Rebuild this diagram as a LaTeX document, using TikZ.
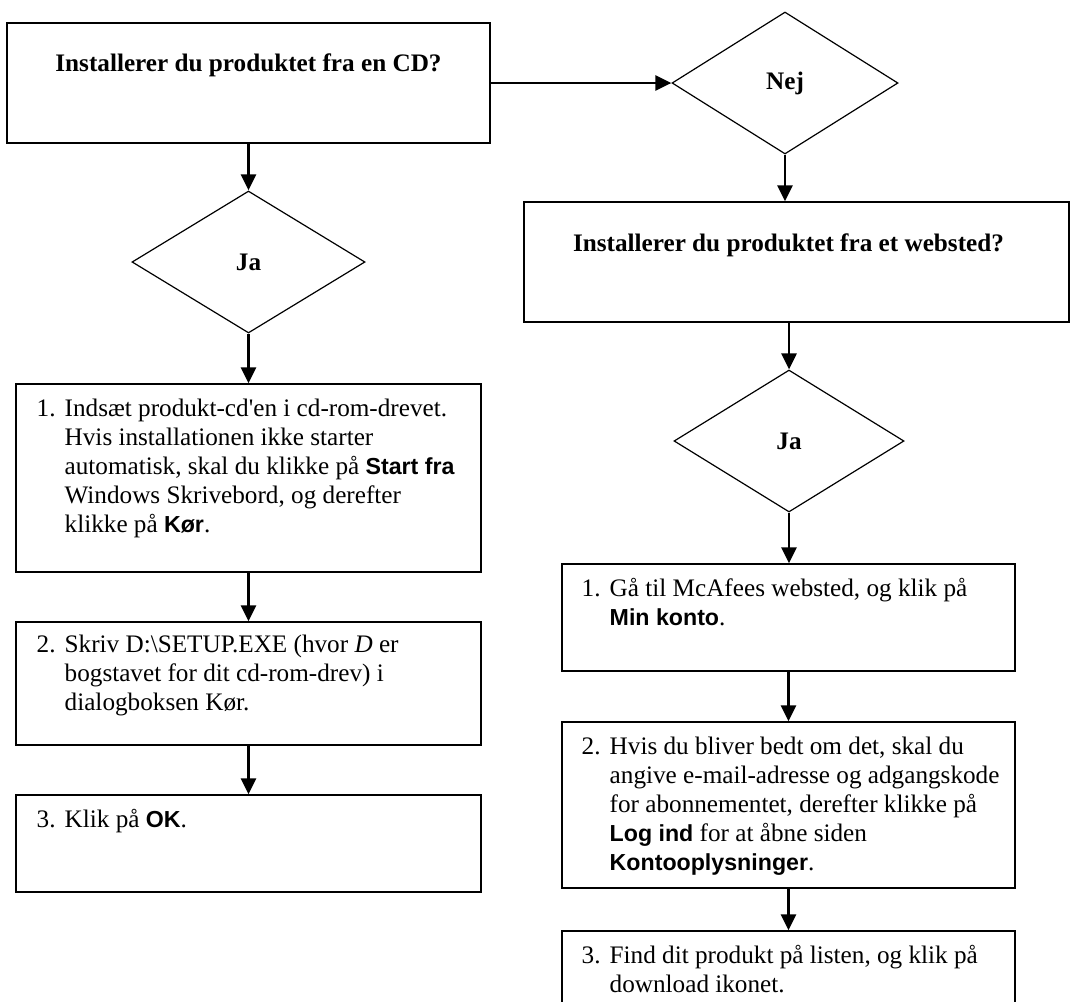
\documentclass[tikz,border=0pt]{standalone}
\usepackage{fontspec}
\setmainfont{Liberation Serif}
\setsansfont[Scale=0.92]{Liberation Sans}
\usetikzlibrary{positioning,shapes.geometric,arrows.meta}

\newcommand{\btn}[1]{{\sffamily\bfseries #1}}

\begin{document}
\begin{tikzpicture}[x=0.5pt, y=-0.5pt,
    box/.style={draw, line width=0.7pt, inner sep=0pt},
    ask/.style={diamond, draw, line width=0.6pt, inner sep=0pt, font=\fontsize{12.6}{14.5}\selectfont\bfseries},
    flow/.style={line width=1.4pt, -{Triangle[length=8pt, width=7.5pt]}},
    steptext/.style={inner sep=0pt, font=\fontsize{12.6}{14.5}\selectfont},
    asktext/.style={inner sep=0pt, font=\fontsize{12.6}{14.5}\selectfont\bfseries}
  ]
\useasboundingbox (0,0) rectangle (1074,1001);

% CD branch
\node[box, minimum width=241.5pt, minimum height=60pt] (cdq) at (248.5,83) {};
\node[asktext, below=24.5pt of cdq.north, anchor=base] {Installerer du produktet fra en CD?};
\node[ask, minimum width=116.5pt, minimum height=71pt] (cdja) at (248.5,262) {Ja};

\node[box, minimum width=232.5pt, minimum height=94pt] (cdone) at (248.5,478) {};
\node[steptext, below right=16.5pt and 10.5pt of cdone.north west, anchor=base west] {%
\begin{tabular}[t]{@{}p{14pt}@{}l@{}}
1. & Indsæt produkt-cd\textquotesingle en i cd-rom-drevet.\\
   & Hvis installationen ikke starter\\
   & automatisk, skal du klikke på \btn{Start fra}\\
   & Windows Skrivebord, og derefter\\
   & klikke på \btn{Kør}.
\end{tabular}};

\node[box, minimum width=232.5pt, minimum height=61.5pt] (cdtwo) at (248.5,683.5) {};
\node[steptext, below right=15.5pt and 10.5pt of cdtwo.north west, anchor=base west] {%
\begin{tabular}[t]{@{}p{14pt}@{}l@{}}
2. & Skriv D:\textbackslash SETUP.EXE (hvor \emph{D} er\\
   & bogstavet for dit cd-rom-drev) i\\
   & dialogboksen Kør.
\end{tabular}};

\node[box, minimum width=232.5pt, minimum height=48.5pt] (cdthree) at (248.5,843.5) {};
\node[steptext, below right=16.5pt and 10.5pt of cdthree.north west, anchor=base west] {%
\begin{tabular}[t]{@{}p{14pt}@{}l@{}}
3. & Klik på \btn{OK}.
\end{tabular}};

% web branch
\node[ask, minimum width=113pt, minimum height=71pt] (nej) at (785,83) {Nej};
\node[box, minimum width=272.5pt, minimum height=60pt] (webq) at (796.5,262) {};
\node[asktext, below=25pt of webq.north, anchor=base, xshift=-4pt] {Installerer du produktet fra et websted?};
\node[ask, minimum width=115pt, minimum height=71pt] (webja) at (789,441) {Ja};

\node[box, minimum width=226.5pt, minimum height=53.5pt] (webone) at (788.5,617.5) {};
\node[steptext, below right=16.5pt and 10pt of webone.north west, anchor=base west] {%
\begin{tabular}[t]{@{}p{14pt}@{}l@{}}
1. & Gå til McAfees websted, og klik på\\
   & \btn{Min konto}.
\end{tabular}};

\node[box, minimum width=226.5pt, minimum height=83pt] (webtwo) at (788.5,805) {};
\node[steptext, below right=16.5pt and 10pt of webtwo.north west, anchor=base west] {%
\begin{tabular}[t]{@{}p{14pt}@{}l@{}}
2. & Hvis du bliver bedt om det, skal du\\
   & angive e-mail-adresse og adgangskode\\
   & for abonnementet, derefter klikke på\\
   & \btn{Log ind} for at åbne siden\\
   & \btn{Kontooplysninger}.
\end{tabular}};

\node[box, minimum width=226.5pt, minimum height=54.5pt] (webthree) at (788.5,985.5) {};
\node[steptext, below right=16.5pt and 10pt of webthree.north west, anchor=base west] {%
\begin{tabular}[t]{@{}p{14pt}@{}l@{}}
3. & Find dit produkt på listen, og klik på\\
   & download ikonet.
\end{tabular}};

% arrows
\draw[flow] (cdq.east) -- (nej.west);
\draw[flow] (cdq.south) -- (cdja.north);
\draw[flow] (cdja.south) -- (cdone.north);
\draw[flow] (cdone.south) -- (cdtwo.north);
\draw[flow] (cdtwo.south) -- (cdthree.north);

\draw[flow] (nej.south) -- (nej.south |- webq.north);
\draw[flow] (webja.north |- webq.south) -- (webja.north);
\draw[flow] (webja.south) -- (webja.south |- webone.north);
\draw[flow] (webone.south) -- (webtwo.north);
\draw[flow] (webtwo.south) -- (webthree.north);

\end{tikzpicture}
\end{document}
